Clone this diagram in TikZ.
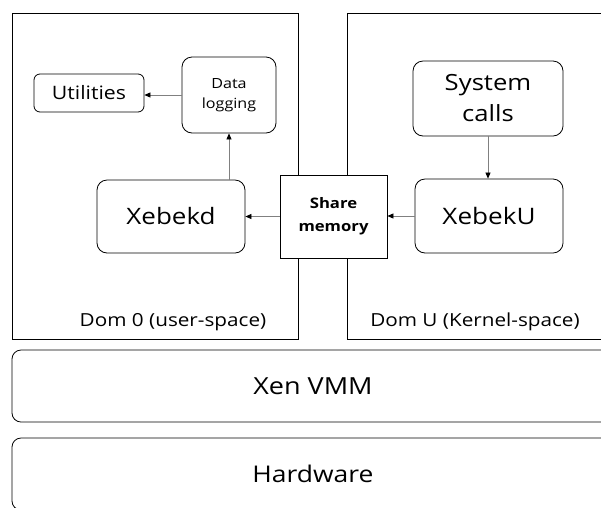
\documentclass[tikz,border=0pt]{standalone}
\usepackage{fontspec}
\setmainfont{Open Sans}[FakeStretch=1.15]
\usetikzlibrary{arrows.meta}
\begin{document}
\begin{tikzpicture}[x=1pt,y=-1pt,
  dom/.style={draw, line width=0.8pt, inner sep=0pt},
  rbox/.style={draw, line width=0.8pt, rounded corners=10pt, inner sep=0pt, align=center},
  layer/.style={draw, line width=0.8pt, rounded corners=9pt, inner sep=0pt},
  txt/.style={inner sep=0pt, align=center},
  arr/.style={draw=gray, line width=0.7pt, -{Triangle[length=6pt,width=5pt,color=black]}}]
\useasboundingbox (0,0) rectangle (601,507);
\clip (0,0) rectangle (601,507);
% domains
\node[dom, minimum width=286pt, minimum height=326pt] (dom0) at (155,176) {};
\node[dom, minimum width=273pt, minimum height=326pt] (domu) at (483.5,176) {};
\node[txt, anchor=base, font=\fontsize{18}{22}\selectfont] (dom0l) at (173,326.5) {Dom 0 (user-space)};
\node[txt, anchor=base, font=\fontsize{18}{22}\selectfont] (domul) at (475,326.5) {Dom U (Kernel-space)};
% inner boxes
\node[rbox, rounded corners=6pt, minimum width=110pt, minimum height=38pt, font=\fontsize{18.5}{22}\selectfont] (util) at (89,93) {Utilities};
\node[rbox, minimum width=94pt, minimum height=76pt, font=\fontsize{14}{20}\selectfont] (dl) at (229,95) {Data\\logging};
\node[rbox, minimum width=148pt, minimum height=73pt, font=\fontsize{22.6}{27}\selectfont] (xd) at (171,216.5) {Xebekd};
\node[rbox, minimum width=150pt, minimum height=75pt, font=\fontsize{22.3}{31}\selectfont] (sc) at (488,98.5) {System\\calls};
\node[rbox, minimum width=148pt, minimum height=74pt, font=\fontsize{22.7}{27}\selectfont] (xu) at (489,216) {XebekU};
\node[draw, fill=white, line width=0.8pt, inner sep=0pt, minimum width=107pt, minimum height=83pt, align=center, font=\bfseries\fontsize{14.5}{23}\selectfont] (sm) at (333.5,216.5) {Share\\memory};
% layers
\node[layer, minimum width=602pt, minimum height=72pt, font=\fontsize{23.5}{28}\selectfont] (xen) at (313,386) {Xen VMM};
\node[layer, minimum width=602pt, minimum height=72pt, font=\fontsize{23}{28}\selectfont] (hw) at (313,474) {Hardware};
% arrows
\draw[arr] (dl.west) -- (dl.west -| util.east);
\draw[arr] (dl.south |- xd.north) -- (dl.south);
\draw[arr] (sm.west) -- (sm.west -| xd.east);
\draw[arr] (xu.west) -- (xu.west -| sm.east);
\draw[arr] (sc.south) -- (sc.south |- xu.north);
\end{tikzpicture}
\end{document}
